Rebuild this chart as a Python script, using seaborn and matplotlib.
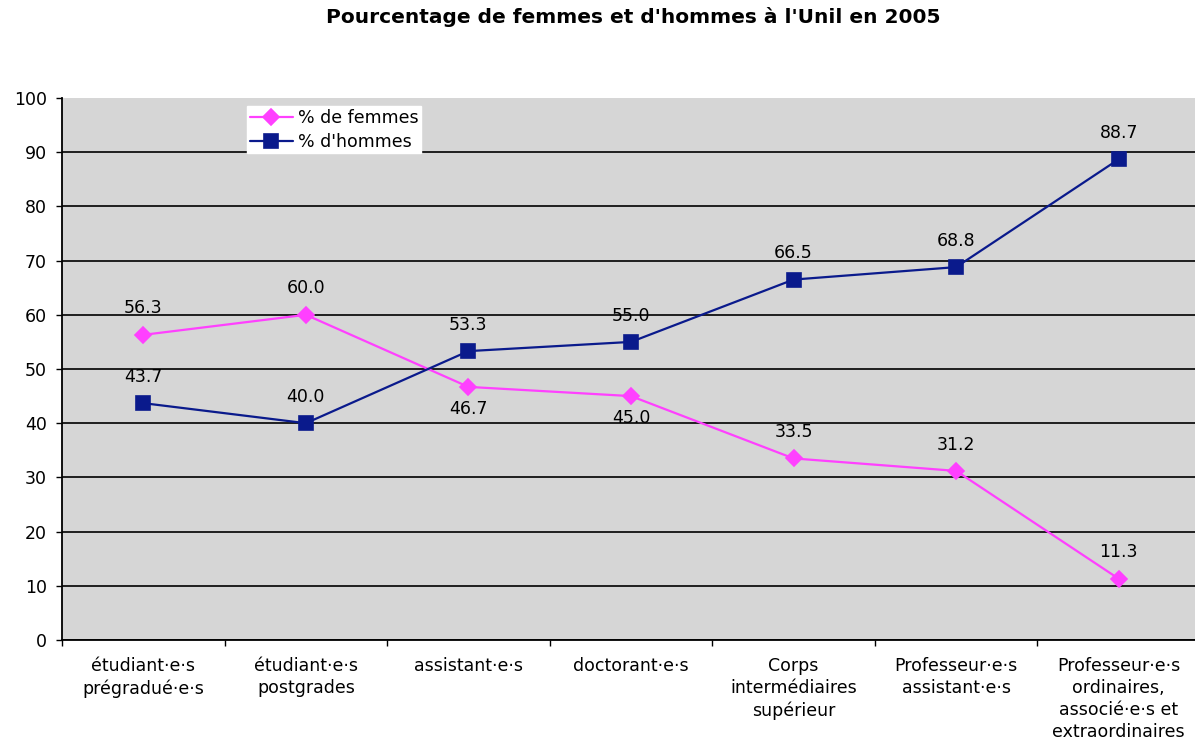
import matplotlib
matplotlib.use("Agg")
import matplotlib.pyplot as plt
import seaborn as sns
import pandas as pd
import numpy as np

# Data
categories = [
    "étudiant·e·s\nprégradué·e·s",
    "étudiant·e·s\npostgrades",
    "assistant·e·s",
    "doctorant·e·s",
    "Corps\nintermédiaires\nsupérieur",
    "Professeur·e·s\nassistant·e·s",
    "Professeur·e·s\nordinaires,\nassocié·e·s et\nextraordinaires",
]
femmes = [56.3, 60.0, 46.7, 45.0, 33.5, 31.2, 11.3]
hommes = [43.7, 40.0, 53.3, 55.0, 66.5, 68.8, 88.7]
series_names = ["% de femmes", "% d'hommes"]
y_ticks = [0, 10, 20, 30, 40, 50, 60, 70, 80, 90, 100]

df = pd.DataFrame({
    "categorie": categories * 2,
    "valeur": femmes + hommes,
    "serie": [series_names[0]] * len(categories) + [series_names[1]] * len(categories),
})

sns.set_style("white")
plt.rcParams["font.family"] = ["DejaVu Sans"]
plt.rcParams["text.color"] = "black"
plt.rcParams["xtick.color"] = "black"
plt.rcParams["ytick.color"] = "black"

pink = "#FF40FF"
navy = "#0A1A8C"

fig = plt.figure(figsize=(11.95, 7.45), dpi=100)
ax = fig.add_axes([62 / 1195, 1 - 640 / 745, 1138 / 1195, 542 / 745])
ax.set_facecolor("#D6D6D6")

sns.pointplot(data=df, x="categorie", y="valeur", hue="serie", order=categories,
              hue_order=series_names, palette=[pink, navy], markers=["D", "s"],
              linestyles=["-", "-"], markersize=10, linewidth=1.6, ax=ax,
              errorbar=None)

# marker sizes per series (diamond a bit smaller than the square)
for line in ax.lines:
    if line.get_marker() == "D":
        line.set_markersize(8)
    elif line.get_marker() == "s":
        line.set_markersize(10.5)

# value labels (drawn under the grid like in the original)
below = [False, False, True, True, False, False, False]
for i, v in enumerate(femmes):
    ax.annotate(f"{v:.1f}", (i, v), xytext=(0, -16 if below[i] else 19),
                textcoords="offset points", ha="center", va="center",
                fontsize=12.5, zorder=0.4)
for i, v in enumerate(hommes):
    ax.annotate(f"{v:.1f}", (i, v), xytext=(0, 19), textcoords="offset points",
                ha="center", va="center", fontsize=12.5, zorder=0.4)

ax.set_ylim(0, 100)
ax.set_xlim(-0.5, len(categories) - 0.5)
ax.set_yticks(y_ticks)
ax.yaxis.grid(True, color="black", linewidth=1.2)
ax.set_axisbelow(True)
ax.get_ygridlines()[-1].set_visible(False)
ax.tick_params(axis="y", labelsize=12.5, length=4, width=1, left=True, pad=7)
ax.set_xticks(range(len(categories)))
ax.set_xticklabels(categories, fontsize=12.5, linespacing=1.3)
ax.tick_params(axis="x", length=0, pad=12)
ax.set_xticks(np.arange(-0.5, len(categories), 1), minor=True)
ax.tick_params(axis="x", which="minor", length=4, width=1, bottom=True)
ax.set_xlabel("")
ax.set_ylabel("")
for s in ["top", "right"]:
    ax.spines[s].set_visible(False)
for s in ["left", "bottom"]:
    ax.spines[s].set_color("black")
    ax.spines[s].set_linewidth(1.3)
ax.spines["left"].set_zorder(3)
ax.spines["bottom"].set_zorder(3)

leg = ax.legend(loc="upper left", bbox_to_anchor=((247 - 62) / 1138, (640 - 106) / 542),
                frameon=True, fancybox=False, fontsize=12.5, handlelength=2.5,
                borderpad=0.15, labelspacing=0.35, handletextpad=0.3,
                borderaxespad=0)
leg.get_frame().set_facecolor("white")
leg.get_frame().set_edgecolor("white")
leg.get_frame().set_alpha(1)

fig.suptitle("Pourcentage de femmes et d'hommes à l'Unil en 2005", x=0.53, y=0.99,
             va="top", fontsize=14.5, fontweight="bold")

fig.savefig("out.png", dpi=100)
